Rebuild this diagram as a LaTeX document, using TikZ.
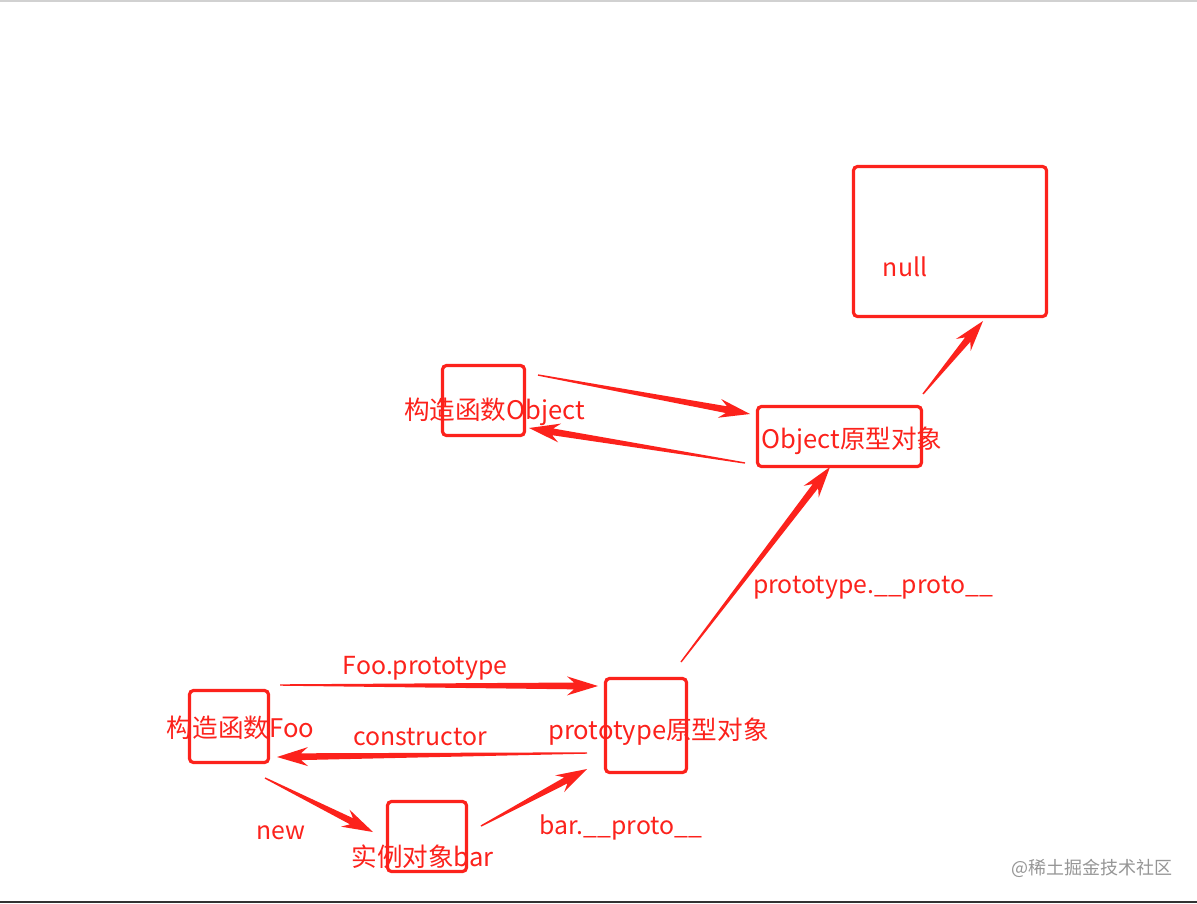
\documentclass[tikz,border=0pt]{standalone}
\usepackage{fontspec}
\setmainfont{Noto Sans CJK SC}
\usetikzlibrary{calc}
\definecolor{jred}{RGB}{252,34,28}
\definecolor{wm}{RGB}{150,150,150}
\tikzset{
  box/.style={draw=jred, line width=3.2pt, rounded corners=4pt, inner sep=0pt},
  lbl/.style={text=jred, font=\fontsize{25.6}{30}\selectfont, inner sep=0pt},
  elbl/.style={lbl, font=\fontsize{24.8}{29}\selectfont},
}
% tapered arrow from coordinate #1 to coordinate #2
\newcommand\taper[2]{%
  \coordinate (hb) at ($(#2)!24pt!(#1)$);
  \coordinate (bb) at ($(#2)!31pt!(#1)$);
  \fill[jred] ($(#1)!0.7pt!90:(#2)$) -- ($(hb)!3.4pt!90:(#2)$) -- ($(bb)!9.5pt!90:(#2)$)
    -- (#2) -- ($(bb)!9.5pt!-90:(#2)$) -- ($(hb)!3.4pt!-90:(#2)$) -- ($(#1)!0.7pt!-90:(#2)$) -- cycle;
}
\begin{document}
\begin{tikzpicture}[x=1pt,y=-1pt]
\useasboundingbox (0,0) rectangle (1197,903);
\fill[white] (0,0) rectangle (1197,903);
\draw[line width=1.5pt, black!18] (0,0.75) -- (1197,0.75);
\draw[line width=2pt, black!80] (0,902) -- (1197,902);

% boxes
\node[box, minimum width=193pt, minimum height=150pt] (nullB) at (950,241.5) {};
\node[box, minimum width=164pt, minimum height=60pt] (objP) at (839.5,436.5) {};
\node[box, minimum width=82pt, minimum height=70pt] (objC) at (483.5,400.5) {};
\node[box, minimum width=79pt, minimum height=72pt] (fooC) at (229,726.5) {};
\node[box, minimum width=81pt, minimum height=94pt] (proto) at (646,725.5) {};
\node[box, minimum width=79pt, minimum height=70pt] (bar) at (427,836.5) {};

% texts
\node[elbl] (nullT) at (905,267) {null};
\node[lbl] (objPT) at (852,441) {Object原型对象};
\node[lbl] (objCT) at (494.5,412) {构造函数Object};
\node[lbl] (fooCT) at (240.5,728) {构造函数Foo};
\node[lbl] (protoT) at (658.5,732) {prototype原型对象};
\node[lbl] (barT) at (422.5,857) {实例对象bar};

\node[elbl] (l1) at (425,668) {Foo.prototype};
\node[elbl] (l2) at (420,737) {constructor};
\node[elbl] (l3) at (281,833) {new};
\node[elbl] (l4) at (621,827) {bar.\_\_proto\_\_};
\node[elbl] (l5) at (873,588) {prototype.\_\_proto\_\_};

\node[text=wm, font=\fontsize{18}{20}\selectfont, inner sep=0pt] (wmk) at (1092,868) {@稀土掘金技术社区};

% connector end points
\coordinate (a1s) at (280,685); \coordinate (a1e) at (598,686);
\coordinate (a2s) at (587,753); \coordinate (a2e) at (277,757);
\coordinate (a3s) at (265,778); \coordinate (a3e) at (373,832);
\coordinate (a4s) at (481,826); \coordinate (a4e) at (587,769);
\coordinate (a5s) at (681,662); \coordinate (a5e) at (830,467);
\coordinate (a6s) at (538,375); \coordinate (a6e) at (750,414);
\coordinate (a7s) at (745,463); \coordinate (a7e) at (529,428);
\coordinate (a8s) at (923,394); \coordinate (a8e) at (983,321);

\taper{a1s}{a1e}
\taper{a2s}{a2e}
\taper{a3s}{a3e}
\taper{a4s}{a4e}
\taper{a5s}{a5e}
\taper{a6s}{a6e}
\taper{a7s}{a7e}
\taper{a8s}{a8e}
\end{tikzpicture}
\end{document}
